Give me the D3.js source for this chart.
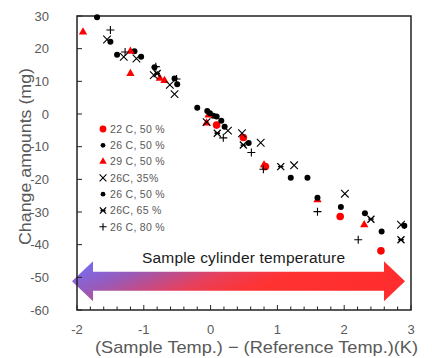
<!DOCTYPE html>
<html>
<head>
<meta charset="utf-8">
<script src="https://cdn.jsdelivr.net/npm/d3@7"></script>
<style>
  body { margin: 0; background: #fff; }
  text { font-family: "Liberation Sans", Arial, sans-serif; }
</style>
</head>
<body>
<div id="chart"></div>
<script>
// series values: [x (K), y (mg)]
let red22 = [[0.09, -3.4], [0.49, -7.2], [0.82, -16.1], [1.94, -31.4], [2.55, -41.9]];
let black26a = [[-1.70, 29.6], [-1.50, 22.1], [-1.40, 18.1], [-1.14, 19.2], [-1.04, 17.5], [-0.84, 14.3],
    [-0.54, 10.9], [-0.50, 9.1], [-0.20, 1.9], [-0.05, 0.9], [0.04, -0.5], [0.16, -2.1]];
let tri29 = [[-1.91, 25.1], [-1.20, 19.2], [-1.20, 12.4], [-0.76, 10.9], [-0.69, 10.2], [-0.03, -0.3],
    [-0.06, -2.8], [0.80, -15.6], [1.60, -26.3], [2.30, -33.9]];
let x35 = [[-1.55, 22.8], [-1.30, 17.5], [-1.11, 17.0], [-0.85, 11.9], [-0.61, 8.9], [-0.54, 6.1],
    [-0.06, -2.5], [0.26, -5.1], [0.47, -5.9], [0.75, -8.8], [1.25, -15.7], [2.01, -24.4], [2.85, -33.9]];
let black26b = [[-0.01, 0.2], [0.09, -0.8], [0.21, -3.9], [0.57, -8.9], [1.20, -19.5], [1.45, -19.5],
    [1.60, -25.6], [1.95, -28.5], [2.31, -30.4], [2.56, -36.0], [2.90, -34.2]];
let star65 = [[-0.80, 12.4], [0.10, -5.9], [0.49, -9.5], [1.05, -16.1], [2.40, -32.2], [2.85, -38.5]];
let plus80 = [[-1.50, 25.7], [-1.28, 19.0], [-0.82, 14.5], [-0.51, 10.7], [0.19, -7.3], [0.61, -11.8],
    [0.79, -16.9], [1.60, -29.9], [2.21, -38.5]];

let legendLabels = ["22 C, 50 %", "26 C, 50 %", "29 C, 50 %", "26C, 35%", "26 C, 50 %", "26C, 65 %", "26 C, 80 %"];
let xTicks = [-2, -1, 0, 1, 2, 3];
let yTicks = [30, 20, 10, 0, -10, -20, -30, -40, -50, -60];

let series = [
    {data: red22, mark: "circleBig"},
    {data: black26a, mark: "circle"},
    {data: tri29, mark: "triangle"},
    {data: x35, mark: "cross"},
    {data: black26b, mark: "circle"},
    {data: star65, mark: "star"},
    {data: plus80, mark: "plus"}
];

let width = 432, height = 358;
let margin = {top: 16, right: 21, bottom: 48, left: 77};
let w = width - margin.left - margin.right;
let h = height - margin.top - margin.bottom;

let svg = d3.select("#chart").append("svg")
    .attr("width", width)
    .attr("height", height);

let defs = svg.append("defs");
let grad = defs.append("linearGradient").attr("id", "arrowGrad")
    .attr("x1", "0%").attr("y1", "0%").attr("x2", "100%").attr("y2", "30%");
grad.append("stop").attr("offset", "0%").attr("stop-color", "#6d70ff");
grad.append("stop").attr("offset", "25%").attr("stop-color", "#9a5ab8");
grad.append("stop").attr("offset", "50%").attr("stop-color", "#e83f5a");
grad.append("stop").attr("offset", "68%").attr("stop-color", "#ff3333");
grad.append("stop").attr("offset", "100%").attr("stop-color", "#ff2d2d");

let g = svg.append("g").attr("transform", "translate(" + margin.left + "," + margin.top + ")");

let xScale = d3.scaleLinear().domain([-2, 3]).range([0, w]);
let yScale = d3.scaleLinear().domain([-60, 30]).range([h, 0]);

// double arrow
let ay = yScale(-51.2), shaft = 9.5, head = 20, headLen = 21;
let ax0 = xScale(-2) - 5, ax1 = xScale(3) - 6;
let arrowPts = [
    [ax0, ay], [ax0 + headLen, ay - head], [ax0 + headLen, ay - shaft], [ax1 - headLen, ay - shaft],
    [ax1 - headLen, ay - head], [ax1, ay], [ax1 - headLen, ay + head], [ax1 - headLen, ay + shaft],
    [ax0 + headLen, ay + shaft], [ax0 + headLen, ay + head]
];
g.append("path")
    .attr("d", d3.line()(arrowPts) + "Z")
    .attr("fill", "url(#arrowGrad)");

g.append("text")
    .attr("x", 243.5 - margin.left)
    .attr("y", ay - 18)
    .attr("text-anchor", "middle")
    .attr("font-size", "15.5px")
    .attr("textLength", 203)
    .attr("lengthAdjust", "spacing")
    .attr("fill", "#1a1a1a")
    .text("Sample cylinder temperature");

// frame
g.append("rect")
    .attr("width", w).attr("height", h)
    .attr("fill", "none").attr("stroke", "#222").attr("stroke-width", 1.5);

// y ticks (inside)
g.selectAll(".ytick").data(yTicks).enter().append("line")
    .attr("x1", 0).attr("x2", 5)
    .attr("y1", d => yScale(d)).attr("y2", d => yScale(d))
    .attr("stroke", "#222").attr("stroke-width", 1);
g.selectAll(".ylab").data(yTicks).enter().append("text")
    .attr("x", -28).attr("y", d => yScale(d) + 4.5)
    .attr("text-anchor", "end")
    .attr("font-size", "13px").attr("fill", "#595959")
    .text(d => d);

// x ticks (inside), minor every 0.2
let minor = d3.range(-2, 3.001, 0.2);
g.selectAll(".xtick").data(minor).enter().append("line")
    .attr("x1", d => xScale(d)).attr("x2", d => xScale(d))
    .attr("y1", h).attr("y2", d => Math.abs(d - Math.round(d)) < 0.01 ? h - 5 : h - 3.5)
    .attr("stroke", "#222").attr("stroke-width", 1);
g.selectAll(".xlab").data(xTicks).enter().append("text")
    .attr("x", d => xScale(d)).attr("y", h + 24)
    .attr("text-anchor", "middle")
    .attr("font-size", "13px").attr("fill", "#595959")
    .text(d => d);

// axis titles
svg.append("text")
    .attr("x", 256.5).attr("y", 352.5)
    .attr("text-anchor", "middle")
    .attr("font-size", "17px").attr("fill", "#595959")
    .attr("textLength", 323).attr("lengthAdjust", "spacingAndGlyphs")
    .text("(Sample Temp.) \u2212 (Reference Temp.)(K)");
svg.append("text")
    .attr("transform", "translate(31,156.5) rotate(-90)")
    .attr("text-anchor", "middle")
    .attr("font-size", "16px").attr("fill", "#595959")
    .attr("textLength", 177).attr("lengthAdjust", "spacingAndGlyphs")
    .text("Change amounts (mg)");

// marker drawing
function drawMark(sel, mark, s) {
    if (mark === "circleBig") {
        sel.append("circle").attr("r", 3.8 * s).attr("fill", "#ff0000");
    } else if (mark === "circle") {
        sel.append("circle").attr("r", 3 * s).attr("fill", "#000");
    } else if (mark === "triangle") {
        sel.append("path").attr("d", d3.symbol().type(d3.symbolTriangle).size(30 * s * s)())
            .attr("fill", "#ff0000");
    } else if (mark === "cross") {
        let r = 3.8 * s;
        sel.append("path").attr("d", "M" + -r + "," + -r + "L" + r + "," + r + "M" + -r + "," + r + "L" + r + "," + -r)
            .attr("stroke", "#000").attr("stroke-width", 1.1).attr("fill", "none");
    } else if (mark === "star") {
        let r = 3.5 * s;
        sel.append("path").attr("d", "M" + -r + "," + -r + "L" + r + "," + r + "M" + -r + "," + r + "L" + r + "," + -r +
            "M" + -r * 0.8 + ",0L" + r * 0.8 + ",0")
            .attr("stroke", "#000").attr("stroke-width", 1.3).attr("fill", "none");
    } else if (mark === "plus") {
        let r = 4 * s;
        sel.append("path").attr("d", "M" + -r + ",0L" + r + ",0M0," + -r + "L0," + r)
            .attr("stroke", "#000").attr("stroke-width", 1.1).attr("fill", "none");
    }
}

// points, in legend order
series.forEach(function(sr) {
    let pts = g.append("g").selectAll("g").data(sr.data).enter().append("g")
        .attr("transform", d => "translate(" + xScale(d[0]) + "," + yScale(d[1]) + ")");
    drawMark(pts, sr.mark, 1);
});

// legend
let legend = svg.append("g").attr("transform", "translate(103,129)");
let rows = legend.selectAll("g").data(series).enter().append("g")
    .attr("transform", (d, i) => "translate(0," + i * 16.3 + ")");
rows.each(function(d) {
    drawMark(d3.select(this), d.mark, d.mark === "circle" ? 0.8 : 0.9);
});
rows.append("text")
    .attr("x", 7).attr("y", 3.8)
    .attr("font-size", "10.5px").attr("fill", "#595959")
    .attr("letter-spacing", "0.3px")
    .text((d, i) => legendLabels[i]);
</script>
</body>
</html>
